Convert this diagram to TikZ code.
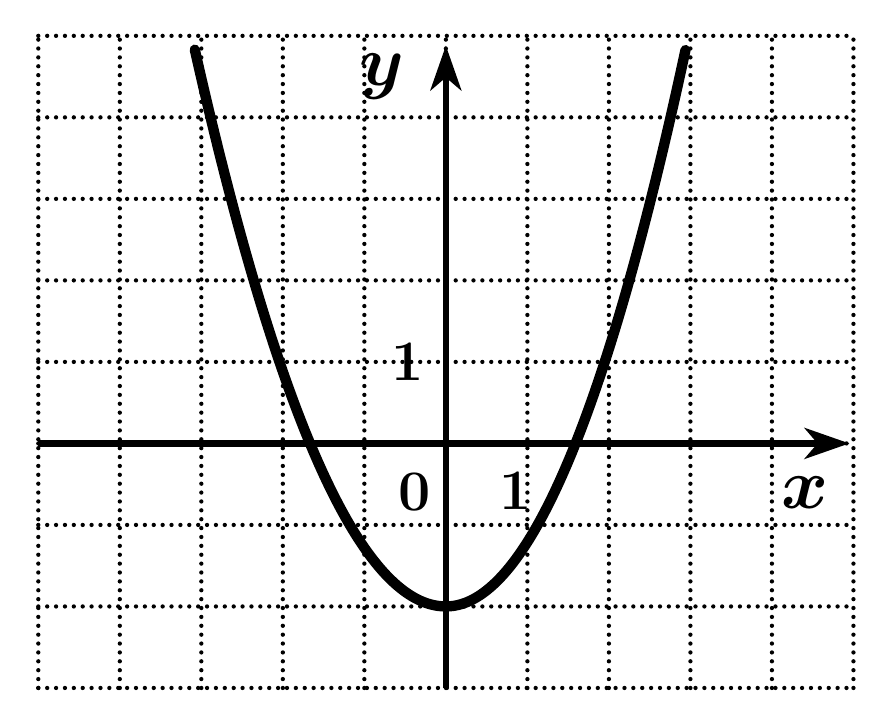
\documentclass[tikz,border=0pt]{standalone}
\usepackage{tikz}
\usetikzlibrary{arrows.meta}

\begin{document}
\begin{tikzpicture}[
    x=1cm, y=1cm,
    gridline/.style={line width=1.5pt, line cap=round, dash pattern=on 0pt off 3.1pt, black},
    axis/.style={line width=2.2pt, -{Stealth[length=0.55cm, width=0.38cm, inset=0.16cm]}},
    curve/.style={line width=3.6pt, line cap=round},
    num/.style={font=\bfseries\fontsize{20}{24}\selectfont, inner sep=0pt},
    var/.style={font=\fontsize{24}{28}\selectfont\boldmath, inner sep=0pt}
]
\useasboundingbox (-5.47,-3.26) rectangle (5.24,5.44);

% Grid
\foreach \i in {-5,...,5}
    \draw [gridline] (\i,-3) -- (\i,5);
\foreach \j in {-3,...,5}
    \draw [gridline] (-5,\j) -- (5,\j);

% Axes
\coordinate (xstart) at (-5,0);
\coordinate (xend) at (4.95,0);
\coordinate (ystart) at (0,-3);
\coordinate (yend) at (0,4.88);
\draw [axis] (xstart) -- (xend);
\draw [axis] (ystart) -- (yend);

% Parabola
\draw [curve] plot[domain=-3.08:0, samples=60, smooth] (\x,{0.72*\x*\x-2})
    -- plot[domain=0:2.94, samples=60, smooth] (\x,{0.79*\x*\x-2});

% Labels
\node (ylabel) [var] at (-0.78,4.5) {$y$};
\node (xlabel) [var] at (4.4,-0.6) {$x$};
\node (yone) [num] at (-0.47,1.0) {1};
\node (origin) [num] at (-0.38,-0.6) {0};
\node (xone) [num] at (0.85,-0.58) {1};

\end{tikzpicture}
\end{document}
